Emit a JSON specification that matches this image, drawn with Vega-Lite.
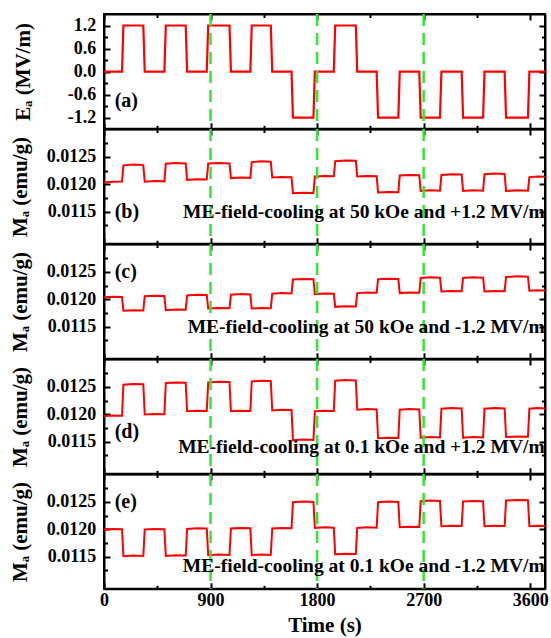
{
"$schema":"https://vega.github.io/schema/vega-lite/v6.json",
"padding":{"left":7,"top":11,"right":0,"bottom":0},
"background":"white",
"spacing":0,
"bounds":"flush",
"config":{
 "view":{"stroke":"black","strokeWidth":2},
 "axis":{"domainColor":"black","domainWidth":2,"tickColor":"black","tickWidth":2,"grid":false,
  "labelFont":"Liberation Serif","labelFontWeight":"bold","labelFontSize":18,"labelColor":"black",
  "titleFont":"Liberation Serif","titleFontWeight":"bold","titleFontSize":21,"titleColor":"black"}
},
"datasets":{
 "g":[{"t":900},{"t":1800},{"t":2700}],
 "ann":[
  {"p":"a","k":"L","t":90,"v":-0.77,"s":"(a)"},
  {"p":"b","k":"L","t":90,"v":0.01149,"s":"(b)"},
  {"p":"b","k":"R","t":3722,"v":0.01149,"s":"ME-field-cooling at 50 kOe and +1.2 MV/m"},
  {"p":"c","k":"L","t":90,"v":0.0125,"s":"(c)"},
  {"p":"c","k":"R","t":3722,"v":0.0115,"s":"ME-field-cooling at 50 kOe and -1.2 MV/m"},
  {"p":"d","k":"L","t":90,"v":0.01167,"s":"(d)"},
  {"p":"d","k":"R","t":3722,"v":0.0114,"s":"ME-field-cooling at 0.1 kOe and +1.2 MV/m"},
  {"p":"e","k":"L","t":90,"v":0.0125,"s":"(e)"},
  {"p":"e","k":"R","t":3722,"v":0.01133,"s":"ME-field-cooling at 0.1 kOe and -1.2 MV/m"}
 ],
 "E":[{"t":0,"v":0},{"t":152,"v":0},{"t":164,"v":1.2},{"t":332,"v":1.2},{"t":344,"v":0},{"t":510,"v":0},{"t":522,"v":1.2},{"t":690,"v":1.2},{"t":702,"v":0},{"t":868,"v":0},{"t":880,"v":1.2},{"t":1060,"v":1.2},{"t":1072,"v":0},{"t":1236,"v":0},{"t":1248,"v":1.2},{"t":1409,"v":1.2},{"t":1421,"v":0},{"t":1584,"v":0},{"t":1596,"v":-1.2},{"t":1769,"v":-1.2},{"t":1781,"v":0},{"t":1941,"v":0},{"t":1953,"v":1.2},{"t":2127,"v":1.2},{"t":2139,"v":0},{"t":2303,"v":0},{"t":2315,"v":-1.2},{"t":2486,"v":-1.2},{"t":2498,"v":0},{"t":2663,"v":0},{"t":2675,"v":-1.2},{"t":2838,"v":-1.2},{"t":2850,"v":0},{"t":3021,"v":0},{"t":3033,"v":-1.2},{"t":3202,"v":-1.2},{"t":3214,"v":0},{"t":3384,"v":0},{"t":3396,"v":-1.2},{"t":3581,"v":-1.2},{"t":3593,"v":0},{"t":3725,"v":0}],
 "b":[{"t":0,"m":0.01203},{"t":76,"m":0.012045},{"t":152,"m":0.01205},
{"t":164,"m":0.012345},{"t":248,"m":0.01236},{"t":332,"m":0.01235},
{"t":344,"m":0.012045},{"t":427,"m":0.012058},{"t":510,"m":0.012052},
{"t":522,"m":0.012375},{"t":606,"m":0.012388},{"t":690,"m":0.01238},
{"t":702,"m":0.01208},{"t":785,"m":0.012092},{"t":868,"m":0.012088},
{"t":880,"m":0.012378},{"t":970,"m":0.012386},{"t":1060,"m":0.01238},
{"t":1072,"m":0.012112},{"t":1154,"m":0.012122},{"t":1236,"m":0.012116},
{"t":1248,"m":0.012405},{"t":1328,"m":0.012418},{"t":1409,"m":0.01241},
{"t":1421,"m":0.012124},{"t":1502,"m":0.012134},{"t":1584,"m":0.012128},
{"t":1596,"m":0.011836},{"t":1682,"m":0.011846},{"t":1769,"m":0.01184},
{"t":1781,"m":0.01214},{"t":1861,"m":0.012152},{"t":1941,"m":0.012146},
{"t":1953,"m":0.012422},{"t":2040,"m":0.012434},{"t":2127,"m":0.012428},
{"t":2139,"m":0.012142},{"t":2221,"m":0.012152},{"t":2303,"m":0.012146},
{"t":2315,"m":0.011848},{"t":2400,"m":0.011858},{"t":2486,"m":0.011852},
{"t":2498,"m":0.01216},{"t":2580,"m":0.01217},{"t":2663,"m":0.012164},
{"t":2675,"m":0.011876},{"t":2756,"m":0.011888},{"t":2838,"m":0.01188},
{"t":2850,"m":0.01217},{"t":2935,"m":0.012182},{"t":3021,"m":0.012176},
{"t":3033,"m":0.011876},{"t":3117,"m":0.011888},{"t":3202,"m":0.011882},
{"t":3214,"m":0.012182},{"t":3299,"m":0.012194},{"t":3384,"m":0.012188},
{"t":3396,"m":0.011876},{"t":3488,"m":0.011888},{"t":3581,"m":0.011882},
{"t":3593,"m":0.01213},{"t":3664,"m":0.01214},{"t":3725,"m":0.012135}],
 "c":[{"t":0,"m":0.012036},{"t":76,"m":0.012046},{"t":152,"m":0.01204},
{"t":164,"m":0.011788},{"t":248,"m":0.0118},{"t":332,"m":0.011794},
{"t":344,"m":0.012054},{"t":427,"m":0.012064},{"t":510,"m":0.012058},
{"t":522,"m":0.0118},{"t":606,"m":0.011812},{"t":690,"m":0.011806},
{"t":702,"m":0.01207},{"t":785,"m":0.012082},{"t":868,"m":0.012076},
{"t":880,"m":0.01183},{"t":970,"m":0.01184},{"t":1060,"m":0.011835},
{"t":1072,"m":0.012082},{"t":1154,"m":0.012094},{"t":1236,"m":0.012088},
{"t":1248,"m":0.01183},{"t":1328,"m":0.01184},{"t":1409,"m":0.011835},
{"t":1421,"m":0.0121},{"t":1502,"m":0.012112},{"t":1584,"m":0.012106},
{"t":1596,"m":0.01236},{"t":1682,"m":0.01237},{"t":1769,"m":0.012365},
{"t":1781,"m":0.012094},{"t":1861,"m":0.012106},{"t":1941,"m":0.0121},
{"t":1953,"m":0.01186},{"t":2040,"m":0.01187},{"t":2127,"m":0.011865},
{"t":2139,"m":0.012112},{"t":2221,"m":0.012124},{"t":2303,"m":0.012118},
{"t":2315,"m":0.012364},{"t":2400,"m":0.012376},{"t":2486,"m":0.01237},
{"t":2498,"m":0.012112},{"t":2580,"m":0.012124},{"t":2663,"m":0.012118},
{"t":2675,"m":0.012388},{"t":2756,"m":0.0124},{"t":2838,"m":0.012394},
{"t":2850,"m":0.012142},{"t":2935,"m":0.012152},{"t":3021,"m":0.012147},
{"t":3033,"m":0.012388},{"t":3117,"m":0.0124},{"t":3202,"m":0.012394},
{"t":3214,"m":0.012142},{"t":3299,"m":0.012152},{"t":3384,"m":0.012147},
{"t":3396,"m":0.012406},{"t":3488,"m":0.012418},{"t":3581,"m":0.012412},
{"t":3593,"m":0.012154},{"t":3664,"m":0.012164},{"t":3725,"m":0.012159}],
 "d":[{"t":0,"m":0.011966},{"t":76,"m":0.011976},{"t":152,"m":0.011971},
{"t":164,"m":0.01254},{"t":248,"m":0.012552},{"t":332,"m":0.012547},
{"t":344,"m":0.011994},{"t":427,"m":0.012006},{"t":510,"m":0.012},
{"t":522,"m":0.01257},{"t":606,"m":0.012582},{"t":690,"m":0.012576},
{"t":702,"m":0.012054},{"t":785,"m":0.012064},{"t":868,"m":0.012059},
{"t":880,"m":0.012582},{"t":970,"m":0.012594},{"t":1060,"m":0.012588},
{"t":1072,"m":0.012054},{"t":1154,"m":0.012064},{"t":1236,"m":0.012059},
{"t":1248,"m":0.0126},{"t":1328,"m":0.012612},{"t":1409,"m":0.012606},
{"t":1421,"m":0.01207},{"t":1502,"m":0.012082},{"t":1584,"m":0.012076},
{"t":1596,"m":0.011524},{"t":1682,"m":0.011536},{"t":1769,"m":0.01153},
{"t":1781,"m":0.012054},{"t":1861,"m":0.012064},{"t":1941,"m":0.012059},
{"t":1953,"m":0.012612},{"t":2040,"m":0.012624},{"t":2127,"m":0.012618},
{"t":2139,"m":0.012082},{"t":2221,"m":0.012094},{"t":2303,"m":0.012088},
{"t":2315,"m":0.01156},{"t":2400,"m":0.01157},{"t":2486,"m":0.011565},
{"t":2498,"m":0.012082},{"t":2580,"m":0.012094},{"t":2663,"m":0.012088},
{"t":2675,"m":0.01157},{"t":2756,"m":0.011582},{"t":2838,"m":0.011576},
{"t":2850,"m":0.0121},{"t":2935,"m":0.012112},{"t":3021,"m":0.012106},
{"t":3033,"m":0.01157},{"t":3117,"m":0.011582},{"t":3202,"m":0.011576},
{"t":3214,"m":0.0121},{"t":3299,"m":0.012112},{"t":3384,"m":0.012106},
{"t":3396,"m":0.011582},{"t":3488,"m":0.011594},{"t":3581,"m":0.011588},
{"t":3593,"m":0.0121},{"t":3664,"m":0.012112},{"t":3725,"m":0.012106}],
 "e":[{"t":0,"m":0.011994},{"t":76,"m":0.012006},{"t":152,"m":0.012},
{"t":164,"m":0.011506},{"t":248,"m":0.011518},{"t":332,"m":0.011512},
{"t":344,"m":0.011994},{"t":427,"m":0.012006},{"t":510,"m":0.012},
{"t":522,"m":0.011512},{"t":606,"m":0.011524},{"t":690,"m":0.011518},
{"t":702,"m":0.012006},{"t":785,"m":0.012018},{"t":868,"m":0.012012},
{"t":880,"m":0.011524},{"t":970,"m":0.011536},{"t":1060,"m":0.01153},
{"t":1072,"m":0.012012},{"t":1154,"m":0.012024},{"t":1236,"m":0.012018},
{"t":1248,"m":0.011524},{"t":1328,"m":0.011536},{"t":1409,"m":0.01153},
{"t":1421,"m":0.012012},{"t":1502,"m":0.012024},{"t":1584,"m":0.012018},
{"t":1596,"m":0.012494},{"t":1682,"m":0.012506},{"t":1769,"m":0.0125},
{"t":1781,"m":0.012024},{"t":1861,"m":0.012034},{"t":1941,"m":0.012029},
{"t":1953,"m":0.01154},{"t":2040,"m":0.011552},{"t":2127,"m":0.011547},
{"t":2139,"m":0.012024},{"t":2221,"m":0.012034},{"t":2303,"m":0.012029},
{"t":2315,"m":0.012494},{"t":2400,"m":0.012506},{"t":2486,"m":0.0125},
{"t":2498,"m":0.012036},{"t":2580,"m":0.012046},{"t":2663,"m":0.012041},
{"t":2675,"m":0.012512},{"t":2756,"m":0.012524},{"t":2838,"m":0.012518},
{"t":2850,"m":0.012054},{"t":2935,"m":0.012064},{"t":3021,"m":0.012059},
{"t":3033,"m":0.012506},{"t":3117,"m":0.012518},{"t":3202,"m":0.012512},
{"t":3214,"m":0.012054},{"t":3299,"m":0.012064},{"t":3384,"m":0.012059},
{"t":3396,"m":0.012524},{"t":3488,"m":0.012536},{"t":3581,"m":0.012529},
{"t":3593,"m":0.012054},{"t":3664,"m":0.012064},{"t":3725,"m":0.012059}]
},
"vconcat":[
 {"width":441,"height":114.8,
  "layer":[
   {"data":{"name":"E"},"mark":{"type":"line","color":"#ff0000","strokeWidth":2.2},
    "encoding":{
     "x":{"field":"t","type":"quantitative","scale":{"domain":[0,3725],"nice":false,"zero":false},
      "axis":{"orient":"bottom","values":[0,450,900,1350,1800,2250,2700,3150,3600],"labels":false,"title":null,"tickSize":{"condition":{"test":"datum.value % 900 != 0","value":-3.5},"value":-6}}},
     "y":{"field":"v","type":"quantitative","scale":{"domain":[-1.49,1.5],"nice":false,"zero":false},
      "axis":{"orient":"left","values":[-1.2,-0.9,-0.6,-0.3,0,0.3,0.6,0.9,1.2],"format":".1f","labelExpr":"round(datum.value*10) % 6 != 0 ? '' : replace(datum.label, '−', '-')","labelOverlap":false,"labelPadding":14.3,"tickSize":{"condition":{"test":"round(datum.value*10) % 6 != 0","value":-3.5},"value":-6},"title":"Eₐ (MV/m)","titleX":-81,"titleY":57.4,"titleBaseline":"middle","titleAngle":-90}}}},
   {"data":{"name":"E"},"mark":{"type":"line","opacity":0},
    "encoding":{
     "x":{"field":"t","type":"quantitative","scale":{"domain":[0,3725],"nice":false,"zero":false},
      "axis":{"orient":"top","values":[0,450,900,1350,1800,2250,2700,3150,3600],"labels":false,"title":null,"tickSize":{"condition":{"test":"datum.value % 900 != 0","value":-3.5},"value":-6}}},
     "y":{"field":"v","type":"quantitative","scale":{"domain":[-1.49,1.5],"nice":false,"zero":false},
      "axis":{"orient":"right","values":[-1.2,-0.9,-0.6,-0.3,0,0.3,0.6,0.9,1.2],"labels":false,"title":null,"tickSize":{"condition":{"test":"round(datum.value*10) % 6 != 0","value":-3.5},"value":-6}}}}},
   {"data":{"name":"g"},"mark":{"type":"rule","color":"#33e633","strokeWidth":2.5,"strokeDash":[12,7]},
    "encoding":{"x":{"field":"t","type":"quantitative","scale":{"domain":[0,3725],"nice":false,"zero":false},"axis":null}}},
   {"data":{"name":"ann"},"transform":[{"filter":"datum.p == 'a' && datum.k == 'L'"}],
    "mark":{"type":"text","align":"left","baseline":"middle","font":"Liberation Serif","fontWeight":"bold","fontSize":20,"color":"black"},
    "encoding":{"x":{"field":"t","type":"quantitative","scale":{"domain":[0,3725],"nice":false,"zero":false},"axis":null},
     "y":{"field":"v","type":"quantitative","scale":{"domain":[-1.49,1.5],"nice":false,"zero":false},"axis":null},"text":{"field":"s"}}}
  ],
  "resolve":{"axis":{"x":"independent","y":"independent"}}},
 {"width":441,"height":114.8,
  "layer":[
   {"data":{"name":"b"},"mark":{"type":"line","color":"#ff0000","strokeWidth":2},
    "encoding":{
     "x":{"field":"t","type":"quantitative","scale":{"domain":[0,3725],"nice":false,"zero":false},
      "axis":{"orient":"bottom","values":[0,450,900,1350,1800,2250,2700,3150,3600],"labels":false,"title":null,"tickSize":{"condition":{"test":"datum.value % 900 != 0","value":-3.5},"value":-6}}},
     "y":{"field":"m","type":"quantitative","scale":{"domain":[0.01091,0.01301],"nice":false,"zero":false},
      "axis":{"orient":"left","values":[0.01125,0.0115,0.01175,0.012,0.01225,0.0125,0.01275],"format":".4f","labelExpr":"round(datum.value*100000) % 50 != 0 ? '' : datum.label","labelOverlap":false,"labelPadding":14.3,"tickSize":{"condition":{"test":"round(datum.value*100000) % 50 != 0","value":-3.5},"value":-6},"title":"Mₐ (emu/g)","titleX":-84,"titleY":57.4,"titleBaseline":"middle","titleAngle":-90}}}},
   {"data":{"name":"b"},"mark":{"type":"line","opacity":0},
    "encoding":{
     "x":{"field":"t","type":"quantitative","scale":{"domain":[0,3725],"nice":false,"zero":false},
      "axis":{"orient":"top","values":[0,450,900,1350,1800,2250,2700,3150,3600],"labels":false,"title":null,"tickSize":{"condition":{"test":"datum.value % 900 != 0","value":-3.5},"value":-6}}},
     "y":{"field":"m","type":"quantitative","scale":{"domain":[0.01091,0.01301],"nice":false,"zero":false},
      "axis":{"orient":"right","values":[0.01125,0.0115,0.01175,0.012,0.01225,0.0125,0.01275],"labels":false,"title":null,"tickSize":{"condition":{"test":"round(datum.value*100000) % 50 != 0","value":-3.5},"value":-6}}}}},
   {"data":{"name":"g"},"mark":{"type":"rule","color":"#33e633","strokeWidth":2.5,"strokeDash":[12,7]},
    "encoding":{"x":{"field":"t","type":"quantitative","scale":{"domain":[0,3725],"nice":false,"zero":false},"axis":null}}},
   {"data":{"name":"ann"},"transform":[{"filter":"datum.p == 'b' && datum.k == 'L'"}],
    "mark":{"type":"text","align":"left","baseline":"middle","font":"Liberation Serif","fontWeight":"bold","fontSize":20,"color":"black"},
    "encoding":{"x":{"field":"t","type":"quantitative","scale":{"domain":[0,3725],"nice":false,"zero":false},"axis":null},
     "y":{"field":"v","type":"quantitative","scale":{"domain":[0.01091,0.01301],"nice":false,"zero":false},"axis":null},"text":{"field":"s"}}},
   {"data":{"name":"ann"},"transform":[{"filter":"datum.p == 'b' && datum.k == 'R'"}],
    "mark":{"type":"text","align":"right","baseline":"middle","font":"Liberation Serif","fontWeight":"bold","fontSize":19.5,"color":"black"},
    "encoding":{"x":{"field":"t","type":"quantitative","scale":{"domain":[0,3725],"nice":false,"zero":false},"axis":null},
     "y":{"field":"v","type":"quantitative","scale":{"domain":[0.01091,0.01301],"nice":false,"zero":false},"axis":null},"text":{"field":"s"}}}
  ],
  "resolve":{"axis":{"x":"independent","y":"independent"}}},
 {"width":441,"height":114.8,
  "layer":[
   {"data":{"name":"c"},"mark":{"type":"line","color":"#ff0000","strokeWidth":2},
    "encoding":{
     "x":{"field":"t","type":"quantitative","scale":{"domain":[0,3725],"nice":false,"zero":false},
      "axis":{"orient":"bottom","values":[0,450,900,1350,1800,2250,2700,3150,3600],"labels":false,"title":null,"tickSize":{"condition":{"test":"datum.value % 900 != 0","value":-3.5},"value":-6}}},
     "y":{"field":"m","type":"quantitative","scale":{"domain":[0.01091,0.01301],"nice":false,"zero":false},
      "axis":{"orient":"left","values":[0.01125,0.0115,0.01175,0.012,0.01225,0.0125,0.01275],"format":".4f","labelExpr":"round(datum.value*100000) % 50 != 0 ? '' : datum.label","labelOverlap":false,"labelPadding":14.3,"tickSize":{"condition":{"test":"round(datum.value*100000) % 50 != 0","value":-3.5},"value":-6},"title":"Mₐ (emu/g)","titleX":-84,"titleY":57.4,"titleBaseline":"middle","titleAngle":-90}}}},
   {"data":{"name":"c"},"mark":{"type":"line","opacity":0},
    "encoding":{
     "x":{"field":"t","type":"quantitative","scale":{"domain":[0,3725],"nice":false,"zero":false},
      "axis":{"orient":"top","values":[0,450,900,1350,1800,2250,2700,3150,3600],"labels":false,"title":null,"tickSize":{"condition":{"test":"datum.value % 900 != 0","value":-3.5},"value":-6}}},
     "y":{"field":"m","type":"quantitative","scale":{"domain":[0.01091,0.01301],"nice":false,"zero":false},
      "axis":{"orient":"right","values":[0.01125,0.0115,0.01175,0.012,0.01225,0.0125,0.01275],"labels":false,"title":null,"tickSize":{"condition":{"test":"round(datum.value*100000) % 50 != 0","value":-3.5},"value":-6}}}}},
   {"data":{"name":"g"},"mark":{"type":"rule","color":"#33e633","strokeWidth":2.5,"strokeDash":[12,7]},
    "encoding":{"x":{"field":"t","type":"quantitative","scale":{"domain":[0,3725],"nice":false,"zero":false},"axis":null}}},
   {"data":{"name":"ann"},"transform":[{"filter":"datum.p == 'c' && datum.k == 'L'"}],
    "mark":{"type":"text","align":"left","baseline":"middle","font":"Liberation Serif","fontWeight":"bold","fontSize":20,"color":"black"},
    "encoding":{"x":{"field":"t","type":"quantitative","scale":{"domain":[0,3725],"nice":false,"zero":false},"axis":null},
     "y":{"field":"v","type":"quantitative","scale":{"domain":[0.01091,0.01301],"nice":false,"zero":false},"axis":null},"text":{"field":"s"}}},
   {"data":{"name":"ann"},"transform":[{"filter":"datum.p == 'c' && datum.k == 'R'"}],
    "mark":{"type":"text","align":"right","baseline":"middle","font":"Liberation Serif","fontWeight":"bold","fontSize":19.5,"color":"black"},
    "encoding":{"x":{"field":"t","type":"quantitative","scale":{"domain":[0,3725],"nice":false,"zero":false},"axis":null},
     "y":{"field":"v","type":"quantitative","scale":{"domain":[0.01091,0.01301],"nice":false,"zero":false},"axis":null},"text":{"field":"s"}}}
  ],
  "resolve":{"axis":{"x":"independent","y":"independent"}}},
 {"width":441,"height":114.8,
  "layer":[
   {"data":{"name":"d"},"mark":{"type":"line","color":"#ff0000","strokeWidth":2},
    "encoding":{
     "x":{"field":"t","type":"quantitative","scale":{"domain":[0,3725],"nice":false,"zero":false},
      "axis":{"orient":"bottom","values":[0,450,900,1350,1800,2250,2700,3150,3600],"labels":false,"title":null,"tickSize":{"condition":{"test":"datum.value % 900 != 0","value":-3.5},"value":-6}}},
     "y":{"field":"m","type":"quantitative","scale":{"domain":[0.01091,0.01301],"nice":false,"zero":false},
      "axis":{"orient":"left","values":[0.01125,0.0115,0.01175,0.012,0.01225,0.0125,0.01275],"format":".4f","labelExpr":"round(datum.value*100000) % 50 != 0 ? '' : datum.label","labelOverlap":false,"labelPadding":14.3,"tickSize":{"condition":{"test":"round(datum.value*100000) % 50 != 0","value":-3.5},"value":-6},"title":"Mₐ (emu/g)","titleX":-84,"titleY":57.4,"titleBaseline":"middle","titleAngle":-90}}}},
   {"data":{"name":"d"},"mark":{"type":"line","opacity":0},
    "encoding":{
     "x":{"field":"t","type":"quantitative","scale":{"domain":[0,3725],"nice":false,"zero":false},
      "axis":{"orient":"top","values":[0,450,900,1350,1800,2250,2700,3150,3600],"labels":false,"title":null,"tickSize":{"condition":{"test":"datum.value % 900 != 0","value":-3.5},"value":-6}}},
     "y":{"field":"m","type":"quantitative","scale":{"domain":[0.01091,0.01301],"nice":false,"zero":false},
      "axis":{"orient":"right","values":[0.01125,0.0115,0.01175,0.012,0.01225,0.0125,0.01275],"labels":false,"title":null,"tickSize":{"condition":{"test":"round(datum.value*100000) % 50 != 0","value":-3.5},"value":-6}}}}},
   {"data":{"name":"g"},"mark":{"type":"rule","color":"#33e633","strokeWidth":2.5,"strokeDash":[12,7]},
    "encoding":{"x":{"field":"t","type":"quantitative","scale":{"domain":[0,3725],"nice":false,"zero":false},"axis":null}}},
   {"data":{"name":"ann"},"transform":[{"filter":"datum.p == 'd' && datum.k == 'L'"}],
    "mark":{"type":"text","align":"left","baseline":"middle","font":"Liberation Serif","fontWeight":"bold","fontSize":20,"color":"black"},
    "encoding":{"x":{"field":"t","type":"quantitative","scale":{"domain":[0,3725],"nice":false,"zero":false},"axis":null},
     "y":{"field":"v","type":"quantitative","scale":{"domain":[0.01091,0.01301],"nice":false,"zero":false},"axis":null},"text":{"field":"s"}}},
   {"data":{"name":"ann"},"transform":[{"filter":"datum.p == 'd' && datum.k == 'R'"}],
    "mark":{"type":"text","align":"right","baseline":"middle","font":"Liberation Serif","fontWeight":"bold","fontSize":19.5,"color":"black"},
    "encoding":{"x":{"field":"t","type":"quantitative","scale":{"domain":[0,3725],"nice":false,"zero":false},"axis":null},
     "y":{"field":"v","type":"quantitative","scale":{"domain":[0.01091,0.01301],"nice":false,"zero":false},"axis":null},"text":{"field":"s"}}}
  ],
  "resolve":{"axis":{"x":"independent","y":"independent"}}},
 {"width":441,"height":114.8,
  "layer":[
   {"data":{"name":"e"},"mark":{"type":"line","color":"#ff0000","strokeWidth":2},
    "encoding":{
     "x":{"field":"t","type":"quantitative","scale":{"domain":[0,3725],"nice":false,"zero":false},
      "axis":{"orient":"bottom","values":[0,450,900,1350,1800,2250,2700,3150,3600],"format":"d","labelExpr":"datum.value % 900 == 0 ? datum.label : ''","labelFlush":false,"labelOverlap":false,"labelPadding":9,"title":"Time (s)","titlePadding":2,"tickSize":{"condition":{"test":"datum.value % 900 != 0","value":-3.5},"value":-6}}},
     "y":{"field":"m","type":"quantitative","scale":{"domain":[0.01091,0.01301],"nice":false,"zero":false},
      "axis":{"orient":"left","values":[0.01125,0.0115,0.01175,0.012,0.01225,0.0125,0.01275],"format":".4f","labelExpr":"round(datum.value*100000) % 50 != 0 ? '' : datum.label","labelOverlap":false,"labelPadding":14.3,"tickSize":{"condition":{"test":"round(datum.value*100000) % 50 != 0","value":-3.5},"value":-6},"title":"Mₐ (emu/g)","titleX":-84,"titleY":57.4,"titleBaseline":"middle","titleAngle":-90}}}},
   {"data":{"name":"e"},"mark":{"type":"line","opacity":0},
    "encoding":{
     "x":{"field":"t","type":"quantitative","scale":{"domain":[0,3725],"nice":false,"zero":false},
      "axis":{"orient":"top","values":[0,450,900,1350,1800,2250,2700,3150,3600],"labels":false,"title":null,"tickSize":{"condition":{"test":"datum.value % 900 != 0","value":-3.5},"value":-6}}},
     "y":{"field":"m","type":"quantitative","scale":{"domain":[0.01091,0.01301],"nice":false,"zero":false},
      "axis":{"orient":"right","values":[0.01125,0.0115,0.01175,0.012,0.01225,0.0125,0.01275],"labels":false,"title":null,"tickSize":{"condition":{"test":"round(datum.value*100000) % 50 != 0","value":-3.5},"value":-6}}}}},
   {"data":{"name":"g"},"mark":{"type":"rule","color":"#33e633","strokeWidth":2.5,"strokeDash":[12,7]},
    "encoding":{"x":{"field":"t","type":"quantitative","scale":{"domain":[0,3725],"nice":false,"zero":false},"axis":null}}},
   {"data":{"name":"ann"},"transform":[{"filter":"datum.p == 'e' && datum.k == 'L'"}],
    "mark":{"type":"text","align":"left","baseline":"middle","font":"Liberation Serif","fontWeight":"bold","fontSize":20,"color":"black"},
    "encoding":{"x":{"field":"t","type":"quantitative","scale":{"domain":[0,3725],"nice":false,"zero":false},"axis":null},
     "y":{"field":"v","type":"quantitative","scale":{"domain":[0.01091,0.01301],"nice":false,"zero":false},"axis":null},"text":{"field":"s"}}},
   {"data":{"name":"ann"},"transform":[{"filter":"datum.p == 'e' && datum.k == 'R'"}],
    "mark":{"type":"text","align":"right","baseline":"middle","font":"Liberation Serif","fontWeight":"bold","fontSize":19.5,"color":"black"},
    "encoding":{"x":{"field":"t","type":"quantitative","scale":{"domain":[0,3725],"nice":false,"zero":false},"axis":null},
     "y":{"field":"v","type":"quantitative","scale":{"domain":[0.01091,0.01301],"nice":false,"zero":false},"axis":null},"text":{"field":"s"}}}
  ],
  "resolve":{"axis":{"x":"independent","y":"independent"}}}
]
}
